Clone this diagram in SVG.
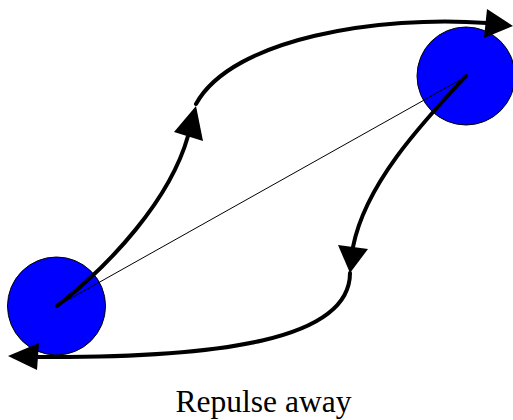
<svg xmlns="http://www.w3.org/2000/svg" width="513" height="420" viewBox="0 0 513 420">
<style>
.ball{fill:#0000ff;stroke:#000;stroke-width:1}
.thick{fill:none;stroke:#000;stroke-width:4;stroke-linecap:round}
.thin{fill:none;stroke:#000;stroke-width:1}
.head{fill:#000;stroke:none}
.lbl{font-family:"Liberation Serif","Times New Roman",serif;font-size:31.5px;fill:#000}
</style>
<rect width="513" height="420" fill="#fff"/>
<g id="node-left"><circle class="ball" cx="56.5" cy="306" r="49"/></g>
<g id="node-right"><circle class="ball" cx="466" cy="76" r="49"/></g>
<g id="connectors">
<line class="thin" x1="57" y1="306" x2="467" y2="76"/>
<path class="thick" d="M57,306 C110,265 170,200 188,136"/>
<polygon class="head" points="196,106 174,132 203,141"/>
<path class="thick" d="M196,104 C232,38 380,15 487,23"/>
<polygon class="head" points="513,26 487,9 484,38"/>
<path class="thick" d="M466,76 C420,125 365,185 353,247"/>
<polygon class="head" points="350,273 338,245 368,249"/>
<path class="thick" d="M350,273 C350,340 220,358 38,357"/>
<polygon class="head" points="8,356 39,343 37,370"/>
</g>
<text class="lbl" x="263.5" y="412" text-anchor="middle">Repulse away</text>
</svg>
